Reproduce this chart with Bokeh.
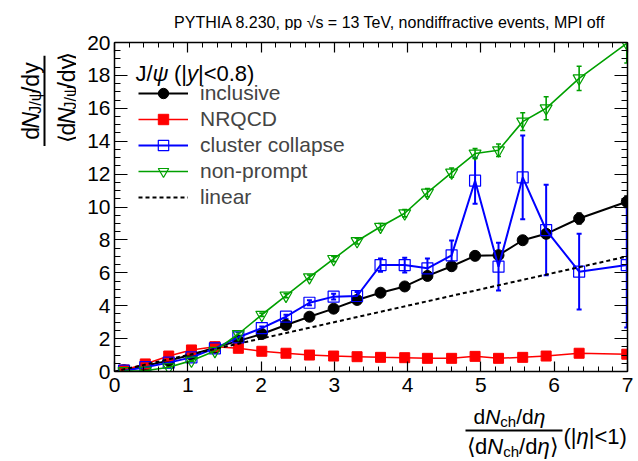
import math
from bokeh.plotting import figure
from bokeh.layouts import column, row
from bokeh.models import (Range1d, LinearAxis, SingleIntervalTicker, CustomLabelingPolicy,
                          Label, BoxAnnotation, Legend, LegendItem, Whisker, TeeHead,
                          ColumnDataSource)
from bokeh.embed import file_html
from bokeh.resources import INLINE

# Multiplicity bins: dN_ch/deta relative to its mean, |eta|<1
mult = [0.13, 0.42, 0.74, 1.05, 1.37, 1.69, 2.01, 2.34, 2.66, 2.99, 3.31,
        3.63, 3.96, 4.27, 4.60, 4.92, 5.24, 5.57, 5.89, 6.34, 6.99]

# Self-normalised J/psi yields, |y|<0.8
inclusive = [0.08, 0.35, 0.66, 1.02, 1.45, 1.86, 2.28, 2.83, 3.33, 3.82, 4.35,
             4.79, 5.17, 5.81, 6.40, 7.03, 7.07, 7.98, 8.37, 9.30, 10.32]
inclusive_err = [0.01, 0.01, 0.02, 0.03, 0.04, 0.05, 0.06, 0.07, 0.08, 0.09, 0.10,
                 0.11, 0.12, 0.13, 0.15, 0.17, 0.20, 0.22, 0.25, 0.33, 0.35]

nrqcd = [0.09, 0.46, 0.94, 1.31, 1.51, 1.41, 1.23, 1.11, 1.00, 0.94, 0.90,
         0.86, 0.84, 0.80, 0.80, 0.92, 0.80, 0.86, 0.94, 1.11, 1.05]
nrqcd_err = [0.01, 0.01, 0.02, 0.02, 0.02, 0.03, 0.03, 0.03, 0.04, 0.04, 0.04,
             0.05, 0.05, 0.05, 0.06, 0.06, 0.07, 0.07, 0.08, 0.09, 0.10]

cluster = [0.05, 0.26, 0.54, 0.86, 1.41, 2.08, 2.64, 3.33, 4.18, 4.55, 4.59,
           6.47, 6.47, 6.27, 7.06, 11.60, 6.37, 11.80, 8.60, 6.07, 6.47]
cluster_err = [0.01, 0.02, 0.03, 0.05, 0.06, 0.08, 0.10, 0.12, 0.15, 0.18, 0.25,
               0.40, 0.45, 0.60, 0.90, 1.40, 1.45, 2.55, 2.75, 2.30, 3.80]

nonprompt = [0.02, 0.05, 0.26, 0.66, 1.25, 2.28, 3.45, 4.61, 5.73, 6.84, 7.93,
             8.80, 9.62, 10.87, 12.09, 13.25, 13.45, 15.19, 16.00, 17.82, 19.95]
nonprompt_err = [0.01, 0.02, 0.03, 0.05, 0.06, 0.08, 0.10, 0.12, 0.14, 0.16, 0.18,
                 0.20, 0.22, 0.25, 0.28, 0.30, 0.38, 0.54, 0.70, 0.74, 1.20]

# Reference line y = x
linear_x = [0.0, 7.0]
linear_y = [0.0, 7.0]

FONT = "Liberation Sans"
GREEN = "#00a000"

# Page layout (canvas pixels): title strip, y-title strip | main plot, x-title strip
W, H = 638, 461
TOP_H = 30
LEFT_W = 76
MAIN_W, MAIN_H = W - LEFT_W, 372
BOT_H = H - TOP_H - MAIN_H
BORDER_LEFT = 38
FRAME_LEFT = LEFT_W + BORDER_LEFT  # canvas x of the plot frame's left edge
FRAME_BOTTOM = TOP_H + 12 + 329    # canvas y of the plot frame's bottom edge

p = figure(width=MAIN_W, height=MAIN_H, x_range=Range1d(0, 7), y_range=Range1d(0, 20),
           output_backend="svg", toolbar_location=None, title=None,
           x_axis_type=None, y_axis_type=None,
           min_border_left=BORDER_LEFT, min_border_right=11,
           min_border_top=12, min_border_bottom=31)
p.outline_line_color = None
p.background_fill_color = "white"
p.border_fill_color = "white"

hide_labels = "for (const i of indices) { indices.unset(i) }\nreturn indices"


def make_axis(interval, n_minor, major_in, minor_in, labels, standoff):
    ax = LinearAxis(ticker=SingleIntervalTicker(interval=interval, num_minor_ticks=n_minor))
    ax.major_tick_in = major_in
    ax.major_tick_out = 0
    ax.minor_tick_in = minor_in
    ax.minor_tick_out = 0
    ax.axis_line_width = 1.5
    ax.axis_line_color = "black"
    ax.major_tick_line_width = 1.2
    ax.minor_tick_line_width = 1.0
    ax.major_tick_line_color = "black"
    ax.minor_tick_line_color = "black"
    ax.major_label_text_font = FONT
    ax.major_label_text_font_size = "21px"
    ax.major_label_text_color = "black"
    ax.major_label_standoff = standoff
    if not labels:
        # ticks only on the opposite sides of the frame
        ax.major_label_policy = CustomLabelingPolicy(code=hide_labels)
        ax.major_label_text_font_size = "1px"
        ax.major_label_standoff = 0
    return ax


p.add_layout(make_axis(1, 5, 10, 5, True, 6), "below")
p.add_layout(make_axis(1, 5, 10, 5, False, 0), "above")
p.add_layout(make_axis(2, 4, 13, 6, True, 4), "left")
p.add_layout(make_axis(2, 4, 13, 6, False, 0), "right")


def errors(values, errs, color, width):
    src = ColumnDataSource(dict(x=mult,
                                lo=[v - e for v, e in zip(values, errs)],
                                hi=[v + e for v, e in zip(values, errs)]))
    w = Whisker(base="x", lower="lo", upper="hi", source=src,
                line_color=color, line_width=width,
                lower_head=TeeHead(size=5, line_color=color, line_width=width),
                upper_head=TeeHead(size=5, line_color=color, line_width=width))
    p.add_layout(w)


# inclusive
errors(inclusive, inclusive_err, "black", 1.5)
l_inc = p.line(mult, inclusive, line_color="black", line_width=2)
m_inc = p.scatter(mult, inclusive, marker="circle", size=11,
                  fill_color="black", line_color="black")

# NRQCD
errors(nrqcd, nrqcd_err, "red", 1.5)
l_nrq = p.line(mult, nrqcd, line_color="red", line_width=1.5)
m_nrq = p.scatter(mult, nrqcd, marker="square", size=10,
                  fill_color="red", line_color="red")

# cluster collapse
errors(cluster, cluster_err, "blue", 2)
l_cc = p.line(mult, cluster, line_color="blue", line_width=2)
m_cc = p.scatter(mult, cluster, marker="square", size=11,
                 fill_color=None, line_color="blue", line_width=1.2)

# non-prompt
errors(nonprompt, nonprompt_err, GREEN, 1.6)
l_np = p.line(mult, nonprompt, line_color=GREEN, line_width=1.6)
m_np = p.scatter(mult, nonprompt, marker="inverted_triangle", size=12,
                 fill_color=None, line_color=GREEN, line_width=1.2)

# linear scaling
l_lin = p.line(linear_x, linear_y, line_color="black", line_width=2, line_dash="4 3")

legend = Legend(items=[
    LegendItem(label="inclusive", renderers=[l_inc, m_inc]),
    LegendItem(label="NRQCD", renderers=[l_nrq, m_nrq]),
    LegendItem(label="cluster collapse", renderers=[l_cc, m_cc]),
    LegendItem(label="non-prompt", renderers=[l_np, m_np]),
    LegendItem(label="linear", renderers=[l_lin]),
])
legend.location = (24, 161)
legend.padding = 0
legend.margin = 0
legend.spacing = 0
legend.glyph_width = 50
legend.glyph_height = 26
legend.label_height = 26
legend.label_standoff = 12
legend.label_text_font = FONT
legend.label_text_font_size = "21px"
legend.background_fill_alpha = 0
legend.border_line_color = None
p.add_layout(legend)


def strip(width, height):
    f = figure(width=width, height=height, x_range=Range1d(0, width), y_range=Range1d(0, height),
               output_backend="svg", toolbar_location=None, title=None,
               x_axis_type=None, y_axis_type=None, min_border=0)
    f.outline_line_color = None
    f.background_fill_color = "white"
    f.border_fill_color = "white"
    return f


top = strip(W, TOP_H)
left = strip(LEFT_W, MAIN_H)
bottom = strip(W, BOT_H)

# text holders: (figure, canvas x of its left edge, canvas y of its top edge, height)
HOLDERS = {
    "top": (top, 0, 0, TOP_H),
    "left": (left, 0, TOP_H, MAIN_H),
    "bottom": (bottom, 0, TOP_H + MAIN_H, BOT_H),
}

ADV = {'d': .556, 'N': .722, 'J': .5, '/': .278, 'ψ': .69, 'y': .5, 'c': .5,
       'h': .556, 'η': .556, '⟨': .39, '⟩': .39, '(': .333, ')': .333, '|': .26,
       '<': .584, '0': .556, '1': .556, '8': .556, '.': .278, ' ': .278}


def label(where, px, py, text, size, style="normal", angle=0.0, align="left"):
    if where == "main":
        lab = Label(x=px - FRAME_LEFT, y=FRAME_BOTTOM - py, x_units="screen", y_units="screen")
        fig = p
    else:
        fig, ox, oy, h = HOLDERS[where]
        lab = Label(x=px - ox, y=h - (py - oy))
    lab.update(text=text, text_font=FONT, text_font_size=f"{size}px",
               text_font_style=style, text_color="black",
               text_align=align, text_baseline="alphabetic", angle=angle)
    fig.add_layout(lab)


def compose(where, parts, x0, y0, rotated=False):
    pos = 0.0
    for text, size, style, shift in parts:
        body = text.strip(" ")
        lead = (len(text) - len(text.lstrip(" "))) * ADV[" "] * size
        if rotated:
            label(where, x0 + shift, y0 - pos - lead, body, size, style, angle=math.pi / 2)
        else:
            label(where, x0 + pos + lead, y0 + shift, body, size, style)
        pos += sum(ADV.get(ch, 0.55) for ch in text) * size


def bar(where, x1, x2, y1, y2):
    fig, ox, oy, h = HOLDERS[where]
    fig.add_layout(BoxAnnotation(left=x1 - ox, right=x2 - ox,
                                 bottom=h - (y2 - oy), top=h - (y1 - oy),
                                 fill_color="black", fill_alpha=1.0, line_color=None))


# title
label("top", 605, 22, "PYTHIA 8.230, pp √s = 13 TeV, nondiffractive events, MPI off", 16,
      align="right")

# legend header
compose("main", [("J/", 22, "normal", 0), ("ψ", 22, "italic", 0), (" (|", 22, "normal", 0),
                 ("y", 22, "italic", 0), ("|<0.8)", 22, "normal", 0)], 135, 73)

# y-axis title: dN_{J/psi}/dy over <dN_{J/psi}/dy>
compose("left", [("d", 23, "normal", 0), ("N", 23, "italic", 0), ("J/ψ", 16, "normal", 5),
                 ("/dy", 23, "normal", 0)], 30, 140, rotated=True)
bar("left", 43, 45, 45, 147)
compose("left", [("⟨", 23, "normal", 0), ("d", 23, "normal", 0), ("N", 23, "italic", 0),
                 ("J/ψ", 16, "normal", 4), ("/dy", 23, "normal", 0), ("⟩", 23, "normal", 0)],
        66, 144, rotated=True)

# x-axis title: dN_ch/deta over <dN_ch/deta> (|eta|<1)
compose("bottom", [("d", 21, "normal", 0), ("N", 21, "italic", 0), ("ch", 15, "normal", 5),
                   ("/d", 21, "normal", 0), ("η", 21, "italic", 0)], 473, 416)
bar("bottom", 465, 562, 429, 431)
compose("bottom", [("⟨", 22, "normal", 0), ("d", 22, "normal", 0), ("N", 22, "italic", 0),
                   ("ch", 15, "normal", 5), ("/d", 22, "normal", 0), ("η", 22, "italic", 0),
                   ("⟩", 22, "normal", 0)], 466, 446)
compose("bottom", [("(|", 22, "normal", 0), ("η", 22, "italic", 0), ("|<1)", 22, "normal", 0)],
        563, 436)

page = column(top, row(left, p), bottom)
open("out.html", "w").write(file_html(page, INLINE))
